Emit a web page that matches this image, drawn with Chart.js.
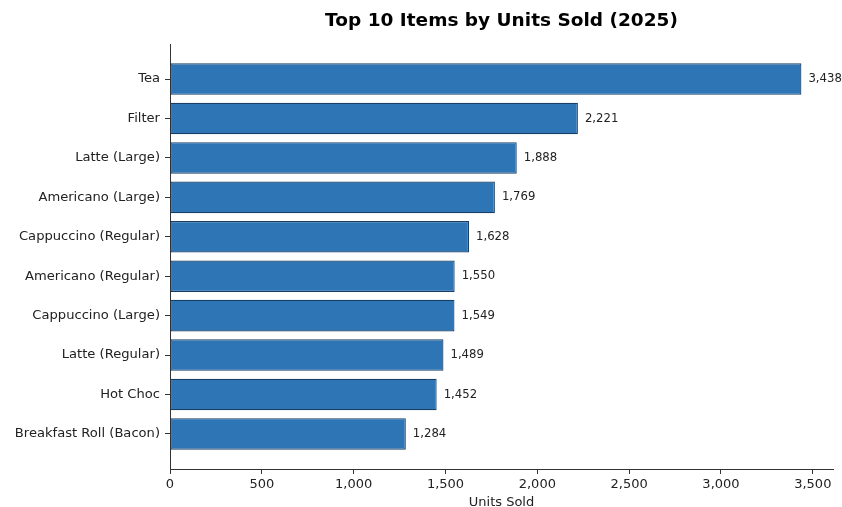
<!DOCTYPE html>
<html>
<head>
<meta charset="utf-8">
<script src="https://cdn.jsdelivr.net/npm/chart.js@4"></script>
<style>
  html, body { margin: 0; padding: 0; background: #fff; }
  #wrap { width: 842px; height: 507px; }
</style>
</head>
<body>
<div id="wrap"><canvas id="chart" width="842" height="507"></canvas></div>
<script>
// data
const items = ['Tea', 'Filter', 'Latte (Large)', 'Americano (Large)', 'Cappuccino (Regular)',
  'Americano (Regular)', 'Cappuccino (Large)', 'Latte (Regular)', 'Hot Choc', 'Breakfast Roll (Bacon)'];
const unitsSold = [3438, 2221, 1888, 1769, 1628, 1550, 1549, 1489, 1452, 1284];
const xTicks = [0, 500, 1000, 1500, 2000, 2500, 3000, 3500];

const fmt = v => v.toLocaleString('en-US');
const FONT = "'DejaVu Sans', sans-serif";

// title centred over plot area + value labels at bar ends
const extras = {
  id: 'extras',
  afterDatasetsDraw(chart) {
    const ctx = chart.ctx;
    const area = chart.chartArea;
    ctx.save();
    ctx.fillStyle = '#000';
    ctx.font = 'bold 18.5px ' + FONT;
    ctx.textAlign = 'center';
    ctx.textBaseline = 'middle';
    ctx.fillText('Top 10 Items by Units Sold (2025)', (area.left + area.right) / 2, 21);

    ctx.font = '11.7px ' + FONT;
    ctx.fillStyle = '#222';
    ctx.textAlign = 'left';
    chart.getDatasetMeta(0).data.forEach((bar, i) => {
      ctx.fillText(fmt(unitsSold[i]), bar.x + 7, bar.y);
    });
    ctx.restore();
  }
};

new Chart(document.getElementById('chart'), {
  type: 'bar',
  data: {
    datasets: [{
      data: unitsSold.map((v, i) => ({ x: v, y: i })),
      backgroundColor: '#2e75b6',
      borderColor: '#183e63',
      borderWidth: 1.2,
      borderSkipped: false,
      barPercentage: 0.8,
      categoryPercentage: 1.0
    }]
  },
  options: {
    indexAxis: 'y',
    responsive: false,
    animation: false,
    devicePixelRatio: 1,
    layout: { padding: { top: 44, right: 9, bottom: 0, left: 0 } },
    plugins: { legend: { display: false }, tooltip: { enabled: false } },
    scales: {
      x: {
        type: 'linear',
        min: 0,
        max: 3610,
        afterBuildTicks: s => { s.ticks = xTicks.map(v => ({ value: v })); },
        afterFit: s => { s.height = 38; },
        grid: { drawOnChartArea: false, drawTicks: true, tickLength: 5, color: '#333' },
        border: { display: true, color: '#333', width: 1 },
        ticks: { color: '#222', font: { family: FONT, size: 13 }, padding: 3, callback: v => fmt(v) },
        title: { display: true, text: 'Units Sold', color: '#222', font: { family: FONT, size: 13 }, padding: { top: 0, bottom: -3 } }
      },
      y: {
        type: 'linear',
        reverse: true,
        offset: false,
        min: -0.89,
        max: 9.89,
        afterBuildTicks: s => { s.ticks = items.map((_, i) => ({ value: i })); },
        afterFit: s => { s.width = 170; },
        grid: { offset: false, drawOnChartArea: false, drawTicks: true, tickLength: 5, color: '#333' },
        border: { display: true, color: '#333', width: 1 },
        ticks: { color: '#222', font: { family: FONT, size: 13.1 }, padding: 5, callback: v => items[v] }
      }
    }
  },
  plugins: [extras]
});
</script>
</body>
</html>
